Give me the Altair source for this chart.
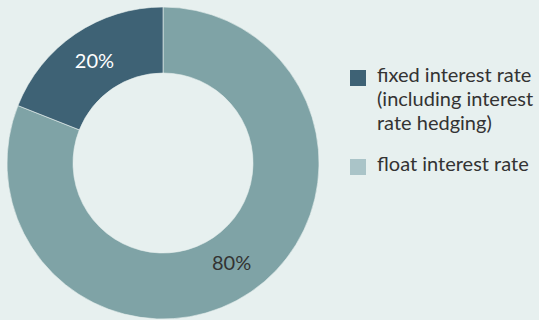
import altair as alt
import pandas as pd

# Data
categories = ["float interest rate", "fixed interest rate"]
shares = [81, 19]
label_texts = ["80%", "20%"]
slice_colors = ["#7fa3a6", "#3e6275"]
label_colors = ["#333333", "#ffffff"]

legend_lines = [["fixed interest rate", "(including interest", "rate hedging)"],
                ["float interest rate"]]
legend_colors = ["#3e6275", "#aac4c8"]

BG = "#e7f0ef"
FONT = "Lato"

pie_df = pd.DataFrame({
    "category": categories,
    "share": shares,
    "label": label_texts,
    "order": [0, 1],
    "lcolor": label_colors,
})

cx, cy = 163, 163

base = alt.Chart(pie_df).encode(
    theta=alt.Theta("share:Q", stack=True),
    order=alt.Order("order:Q"),
)

arcs = base.mark_arc(outerRadius=156, innerRadius=90, stroke=BG, strokeWidth=0.6).encode(
    x=alt.value(cx), y=alt.value(cy),
    color=alt.Color("category:N",
                    scale=alt.Scale(domain=categories, range=slice_colors),
                    legend=None),
)

labels = base.mark_text(radius=122, fontSize=20, font=FONT).encode(
    x=alt.value(cx), y=alt.value(cy),
    text="label:N",
    color=alt.Color("lcolor:N", scale=None),
)

leg_df = pd.DataFrame({
    "text": legend_lines,
    "col": legend_colors,
    "ypos": [78, 167],
})

leg_sq = alt.Chart(leg_df).mark_square(size=256, opacity=1).encode(
    x=alt.value(358),
    y=alt.Y("ypos:Q", scale=None),
    color=alt.Color("col:N", scale=None),
)

leg_tx = alt.Chart(leg_df).mark_text(
    align="left", baseline="top", fontSize=20, font=FONT,
    lineHeight=24, color="#333333", dy=-12,
).encode(
    x=alt.value(377),
    y=alt.Y("ypos:Q", scale=None),
    text="text",
)

chart = alt.layer(arcs, labels, leg_sq, leg_tx).properties(
    width=539, height=320,
    autosize=alt.AutoSizeParams(type="none"),
    padding=0,
    background=BG,
).configure_view(stroke=None, fill=None)

chart.save("out.html", embed_options={"renderer": "svg", "actions": False,
                                      "defaultStyle": "body{background:#e7f0ef;margin:0;overflow:hidden} .vega-embed{display:block}"})
